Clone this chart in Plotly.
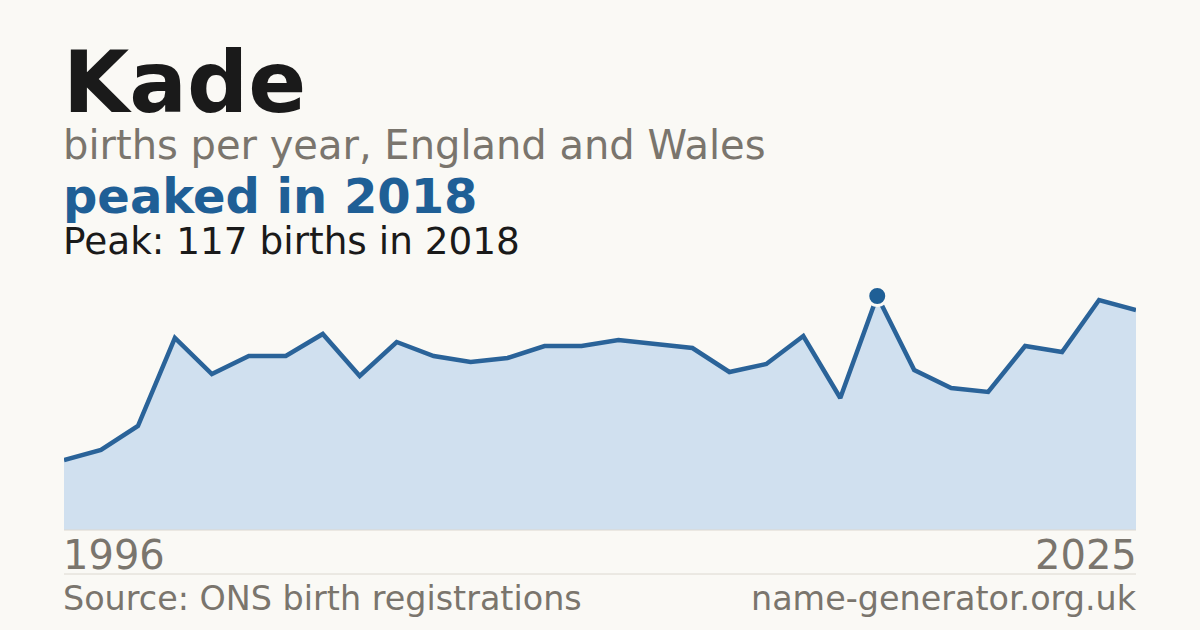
import plotly.graph_objects as go

# births per year for "Kade"
years = list(range(1996, 2026))
births = [35, 40, 52, 96, 78, 87, 87, 98, 77, 94,
          87, 84, 86, 92, 92, 95, 93, 91, 79, 83,
          97, 66, 117, 80, 71, 69, 92, 89, 115, 110]

peak_year = 2018
peak_value = 117

BG = "#faf9f5"
BLUE = "#1f5f96"
LINE = "#2a6399"
FILL = "#d0e0ef"
GREY = "#7a756d"
INK = "#1a1a1a"
FONT = "DejaVu Sans"

W, H = 1200, 630
PLOT_TOP, PLOT_BOTTOM = 270, 530
PLOT_LEFT, PLOT_RIGHT = 64, 1136
NUDGE = 2 / (PLOT_RIGHT - PLOT_LEFT)  # annotation text sits ~2px inside its anchor


def py(y_px):
    """pixel row -> paper y"""
    return (PLOT_BOTTOM - y_px) / (PLOT_BOTTOM - PLOT_TOP)


fig = go.Figure()

fig.add_trace(go.Scatter(
    x=years,
    y=births,
    mode="lines",
    line=dict(color=LINE, width=4.5),
    fill="tozeroy",
    fillcolor=FILL,
    hoverinfo="skip",
))

fig.add_trace(go.Scatter(
    x=[peak_year],
    y=[peak_value],
    mode="markers",
    marker=dict(size=19, color=BLUE, line=dict(color=BG, width=3)),
    cliponaxis=False,
    hoverinfo="skip",
))

annotations = [
    dict(text="<b>Kade</b>", y=py(83), size=85.5, color=INK, anchor="left"),
    dict(text="births per year, England and Wales", y=py(145), size=40, color=GREY, anchor="left"),
    dict(text="<b>peaked in 2018</b>", y=py(196), size=48, color=BLUE, anchor="left"),
    dict(text=f"Peak: {peak_value} births in {peak_year}", y=py(241), size=37.4, color=INK, anchor="left"),
    dict(text=str(years[0]), y=py(555), size=40, color=GREY, anchor="left"),
    dict(text=str(years[-1]), y=py(555), size=40, color=GREY, anchor="right"),
    dict(text="Source: ONS birth registrations", y=py(598), size=33.4, color=GREY, anchor="left"),
    dict(text="name-generator.org.uk", y=py(598), size=33.4, color=GREY, anchor="right"),
]

for a in annotations:
    x = -NUDGE if a["anchor"] == "left" else 1 + NUDGE
    fig.add_annotation(
        text=a["text"],
        xref="paper", yref="paper",
        x=x, y=a["y"],
        xanchor=a["anchor"], yanchor="middle",
        showarrow=False,
        borderpad=0,
        font=dict(family=FONT, size=a["size"], color=a["color"]),
    )

# baseline under the area and the divider above the footer
fig.add_shape(type="line", xref="paper", yref="paper", x0=0, x1=1, y0=0, y1=0,
              line=dict(color="#dcd8d0", width=1))
fig.add_shape(type="line", xref="paper", yref="paper", x0=0, x1=1, y0=py(574), y1=py(574),
              line=dict(color="#dcd8d0", width=1))

fig.update_layout(
    width=W,
    height=H,
    paper_bgcolor=BG,
    plot_bgcolor=BG,
    showlegend=False,
    margin=dict(l=PLOT_LEFT, r=W - PLOT_RIGHT, t=PLOT_TOP, b=H - PLOT_BOTTOM),
    xaxis=dict(range=[years[0], years[-1]], visible=False, fixedrange=True),
    yaxis=dict(range=[0, 130], visible=False, fixedrange=True),
    font=dict(family=FONT),
)

fig.write_html(
    "out.html",
    config={"displayModeBar": False},
    post_script="document.body.style.margin='0';document.body.style.background='%s';" % BG,
)
